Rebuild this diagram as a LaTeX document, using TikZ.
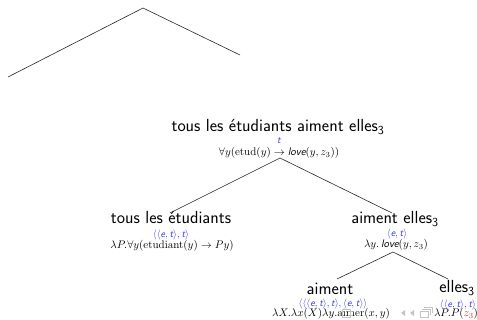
\RequirePackage{fix-cm}
\documentclass[tikz,border=0pt]{standalone}
\definecolor{typeblue}{RGB}{50,50,235}
\definecolor{zred}{RGB}{225,30,30}
\definecolor{navgray}{RGB}{195,195,195}
\newcommand{\tyv}[1]{\textsf{\itshape #1}}
\tikzset{
  lab/.style={font=\sffamily\fontsize{17.5}{19}\selectfont, anchor=base, inner sep=0pt},
  typ/.style={font=\fontsize{10}{11}\selectfont, text=typeblue, anchor=base, inner sep=0pt},
  sem/.style={font=\fontsize{11}{12}\selectfont, anchor=base, inner sep=0pt},
  edge/.style={draw=black!85, line width=0.6pt},
  nav/.style={draw=navgray, line width=0.5pt},
  navtri/.style={fill=navgray, draw=none},
}
\begin{document}
\begin{tikzpicture}[x=1pt,y=-1pt]
\useasboundingbox (0,0) rectangle (477,320);
% stray top lines
\coordinate (t1) at (8,77);
\coordinate (t2) at (143,8);
\coordinate (t3) at (240,55);
\draw[edge] (t1) -- (t2) -- (t3);
% root
\node[lab] (rootlab) at (278,132) {tous les étudiants aiment elles\textsubscript{3}};
\node[typ] (roottyp) at (279,143.5) {$\tyv{t}$};
\node[sem] (rootsem) at (279,156) {$\forall y(\mathrm{etud}(y) \rightarrow \tyv{love}(y, z_3))$};
% left child
\node[lab] (leftlab) at (171,224) {tous les étudiants};
\node[typ] (lefttyp) at (171,238) {$\langle\langle \tyv{e}, \tyv{t}\rangle, \tyv{t}\rangle$};
\node[sem] (leftsem) at (172,249) {$\lambda P.\forall y(\mathrm{etudiant}(y) \rightarrow Py)$};
% right child
\node[lab] (rightlab) at (395,224) {aiment elles\textsubscript{3}};
\node[typ] (righttyp) at (397,237) {$\langle \tyv{e}, \tyv{t}\rangle$};
\node[sem] (rightsem) at (396,248) {$\lambda y.\,\tyv{love}(y, z_3)$};
% aiment
\node[lab] (aimlab) at (330,295) {aiment};
\node[typ] (aimtyp) at (333,307) {$\langle\langle\langle \tyv{e}, \tyv{t}\rangle, \tyv{t}\rangle, \langle \tyv{e}, \tyv{t}\rangle\rangle$};
\node[sem] (aimsem) at (331,317) {$\lambda X.\lambda x(X)\lambda y.\mathrm{aimer}(x, y)$};
% elles
\node[lab] (elllab) at (457,293) {elles\textsubscript{3}};
\node[typ] (elltyp) at (458,307.5) {$\langle\langle \tyv{e}, \tyv{t}\rangle, \tyv{t}\rangle$};
\node[sem] (ellsem) at (456,317) {$\lambda P.P({\color{zred}z_3})$};
% edges
\coordinate (r) at (280,158);
\coordinate (rl) at (170,213);
\coordinate (rr) at (392,213);
\coordinate (s) at (393,252);
\coordinate (sl) at (337,279);
\coordinate (sr) at (448,279);
\draw[edge] (rl) -- (r) -- (rr);
\draw[edge] (sl) -- (s) -- (sr);
% navigation symbols
\draw[nav] (342,309) rectangle (350,317);
\fill[navtri] (405,310) -- (401,313) -- (405,316) -- cycle;
\fill[navtri] (414,310) -- (410,313) -- (414,316) -- cycle;
\draw[nav] (420,311) rectangle (428,317);
\draw[nav] (422,309) -- (430,309) -- (430,315);
\draw[nav] (424,307) -- (432,307) -- (432,313);
\end{tikzpicture}
\end{document}
